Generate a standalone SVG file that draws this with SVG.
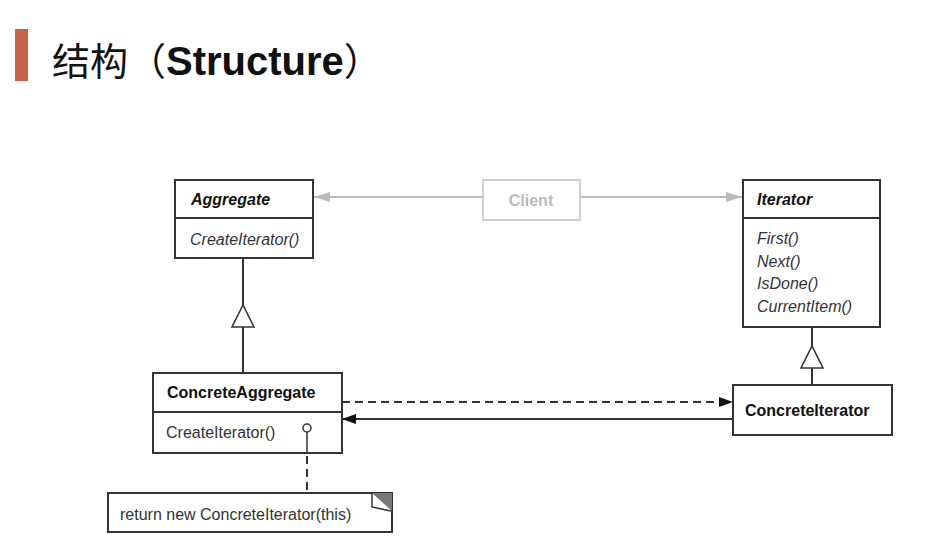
<svg xmlns="http://www.w3.org/2000/svg" width="940" height="547" viewBox="0 0 940 547">
<defs>
<style>
.box{fill:#fff;stroke:#333;stroke-width:2}
.t{font-family:"Liberation Sans",Arial,sans-serif;font-size:16px;fill:#333}
.b{font-weight:bold;fill:#111}
.i{font-style:italic}
.line{stroke:#333;stroke-width:2;fill:none}
.gray{stroke:#bbb;stroke-width:1.8;fill:none}
</style>
<marker id="grayArrow" markerWidth="16" markerHeight="10" refX="16" refY="5" orient="auto" markerUnits="userSpaceOnUse">
<path d="M0,0 L16,5 L0,10 Z" fill="#bbb"/>
</marker>
<marker id="blackArrow" markerWidth="14" markerHeight="10" refX="14" refY="5" orient="auto" markerUnits="userSpaceOnUse">
<path d="M0,0 L14,5 L0,10 Z" fill="#111"/>
</marker>
</defs>
<rect width="940" height="547" fill="#fff"/>
<g id="title">
<rect x="15" y="29" width="13" height="52" fill="#c4624a"/>
<text x="52" y="75" font-family="'Liberation Sans','Noto Sans CJK SC',sans-serif" font-size="38" fill="#111">结构（<tspan font-weight="bold" font-size="40">Structure</tspan>）</text>
</g>
<g id="connectors">
<line class="gray" x1="483" y1="197" x2="314" y2="197" marker-end="url(#grayArrow)"/>
<line class="gray" x1="580" y1="197" x2="742" y2="197" marker-end="url(#grayArrow)"/>
<line class="line" x1="243" y1="258" x2="243" y2="305"/>
<polygon points="243,305 254,327 232,327" fill="#fff" stroke="#333" stroke-width="1.6"/>
<line class="line" x1="243" y1="327" x2="243" y2="373"/>
<line class="line" x1="812" y1="327" x2="812" y2="346"/>
<polygon points="812,346 823,368 801,368" fill="#fff" stroke="#333" stroke-width="1.6"/>
<line class="line" x1="812" y1="368" x2="812" y2="385"/>
<line class="line" x1="342" y1="402" x2="733" y2="402" stroke-dasharray="8,5" marker-end="url(#blackArrow)"/>
<line class="line" x1="733" y1="419" x2="342" y2="419" marker-end="url(#blackArrow)"/>
<line class="line" x1="307" y1="456" x2="307" y2="493" stroke-dasharray="8,5"/>
</g>
<g id="Aggregate">
<rect class="box" x="175" y="180" width="138" height="78"/>
<line class="line" x1="175" y1="218" x2="313" y2="218"/>
<text class="t b i" x="191" y="205">Aggregate</text>
<text class="t i" x="190" y="245">CreateIterator()</text>
</g>
<g id="Client">
<rect x="483" y="180" width="97" height="40" fill="#fff" stroke="#ccc" stroke-width="1.8"/>
<text class="t" x="531" y="206" text-anchor="middle" font-weight="bold" style="fill:#bbb">Client</text>
</g>
<g id="Iterator">
<rect class="box" x="743" y="180" width="137" height="147"/>
<line class="line" x1="743" y1="218" x2="880" y2="218"/>
<text class="t b i" x="757" y="205">Iterator</text>
<text class="t i" x="757" y="244">First()</text>
<text class="t i" x="757" y="267">Next()</text>
<text class="t i" x="757" y="289">IsDone()</text>
<text class="t i" x="757" y="312">CurrentItem()</text>
</g>
<g id="ConcreteAggregate">
<rect class="box" x="153" y="373" width="189" height="80"/>
<line class="line" x1="153" y1="412" x2="342" y2="412"/>
<text class="t b" x="167" y="398">ConcreteAggregate</text>
<text class="t" x="166" y="438">CreateIterator()</text>
<line x1="307" y1="432" x2="307" y2="453" stroke="#333" stroke-width="1.5"/>
<circle cx="307" cy="428" r="4" fill="#fff" stroke="#333" stroke-width="1.5"/>
</g>
<g id="ConcreteIterator">
<rect class="box" x="733" y="385" width="159" height="50"/>
<text class="t b" x="745" y="416">ConcreteIterator</text>
</g>
<g id="Note">
<rect class="box" x="108" y="493" width="284" height="39"/>
<polygon points="372,493 392,493 392,511" fill="#777"/>
<polyline points="372,493 372,507 391,511" fill="none" stroke="#333" stroke-width="1.5"/>
<text class="t" x="120" y="520">return new ConcreteIterator(this)</text>
</g>
</svg>
